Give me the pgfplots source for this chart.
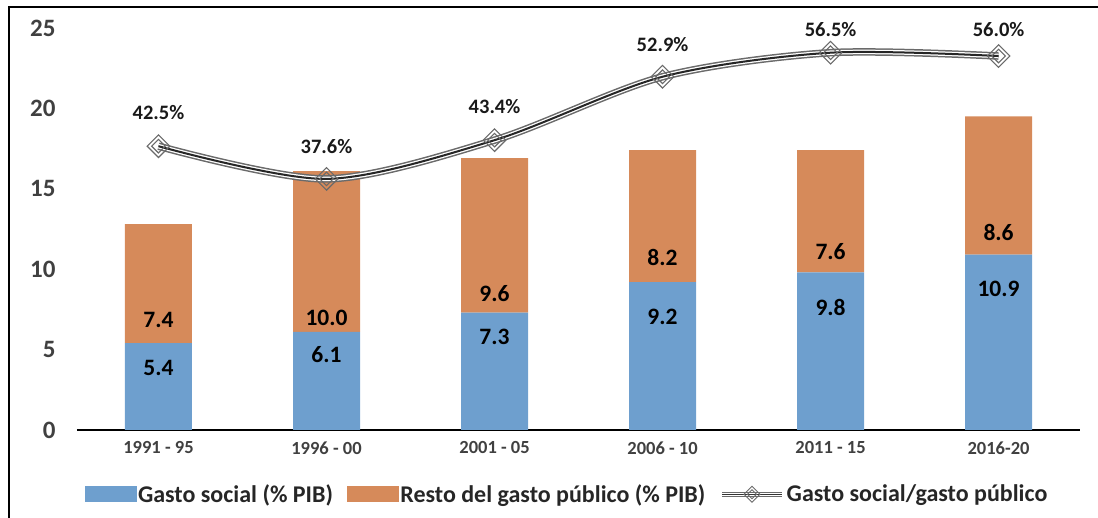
\documentclass[border=0pt]{standalone}
\usepackage{fontspec}
\setmainfont{Carlito}
\usepackage{pgfplots}
\usepackage{pgfplotstable}
\pgfplotsset{compat=1.18}

\definecolor{azul}{HTML}{6E9FCE}
\definecolor{naranja}{HTML}{D68A5A}
\definecolor{gristick}{HTML}{404040}
\definecolor{grisleg}{HTML}{262626}
\definecolor{grislinea}{HTML}{6A6A6A}

% periodo, gasto social, resto, y de las etiquetas
\pgfplotstableread{
x soc resto ysoc yresto
0 5.4 7.4  3.86 6.84
1 6.1 10.0 4.66 6.97
2 7.3 9.6  5.78 8.46
3 9.2 8.2  7.03 10.70
4 9.8 7.6  7.65 11.07
5 10.9 8.6 8.77 12.31
}\barras

% gasto social / gasto publico (%)
\pgfplotstableread{
x ratio ylbl lbl
0 42.5 47.6 42.5\%
1 37.6 42.5 37.6\%
2 43.4 48.5 43.4\%
3 52.9 57.8 52.9\%
4 56.5 60.0 56.5\%
5 56.0 60.0 56.0\%
}\ratio

\pgfplotsset{
  base/.style={at={(77pt,88pt)}, anchor=south west, scale only axis,
    width=1003pt, height=402pt, xmin=-0.485, xmax=5.485, clip=false},
  oculto/.style={base, hide axis},
}

\begin{document}
\begin{tikzpicture}
\path[use as bounding box] (0,0) rectangle (1098pt,518pt);

\begin{axis}[base,
    ymin=0, ymax=25,
    ybar stacked, bar width=67pt,
    axis lines*=left,
    y axis line style={draw=none},
    x axis line style={black, line width=1.8pt},
    major tick length=0pt,
    ytick={0,5,...,25},
    xtick={0,...,5},
    xticklabels={1991 - 95, 1996 - 00, 2001 - 05, 2006 - 10, 2011 - 15, 2016-20},
    /pgf/number format/assume math mode=true,
    yticklabel style={font=\bfseries\fontsize{25}{25}\selectfont, text=gristick, xshift=-18pt},
    xticklabel style={font=\bfseries\fontsize{18.5}{18.5}\selectfont, text=gristick, yshift=-8pt},
  ]
  \addplot[fill=azul, draw=none] table[x=x, y=soc] {\barras};
  \addplot[fill=naranja, draw=none] table[x=x, y=resto] {\barras};
\end{axis}

\begin{axis}[oculto, ymin=0, ymax=25]
  \addplot[draw=none, mark=none, nodes near coords, point meta=explicit symbolic,
    nodes near coords style={anchor=center, font=\bfseries\fontsize{23.5}{23.5}\selectfont, text=black}]
    table[x=x, y=ysoc, meta=soc] {\barras};
  \addplot[draw=none, mark=none, nodes near coords, point meta=explicit symbolic,
    nodes near coords style={anchor=center, font=\bfseries\fontsize{23.5}{23.5}\selectfont, text=black}]
    table[x=x, y=yresto, meta=resto] {\barras};
\end{axis}

\begin{axis}[oculto, ymin=0, ymax=60.2,
    legend style={at={(0.4885,-0.16)}, anchor=center, draw=none, fill=none,
      legend columns=3, font=\bfseries\fontsize{24}{24}\selectfont, text=grisleg,
      /tikz/every even column/.append style={column sep=12pt}},
  ]
  \addlegendimage{legend image code/.code={\fill[azul] (0pt,-7pt) rectangle (51pt,8pt);}}
  \addlegendentry{Gasto social (\% PIB)}
  \addlegendimage{legend image code/.code={\fill[naranja] (0pt,-7pt) rectangle (51pt,8pt);}}
  \addlegendentry{Resto del gasto público (\% PIB)}
  \addlegendimage{legend image code/.code={
      \draw[grislinea, double=white, double distance=3pt, line width=1.2pt] (0pt,0pt) -- (60pt,0pt);
      \draw[black!80, line width=1.4pt] (0pt,0pt) -- (60pt,0pt);
      \draw[grislinea, line width=0.9pt] (30pt,-8pt) -- (38pt,0pt) -- (30pt,8pt) -- (22pt,0pt) -- cycle;
      \draw[grislinea, line width=0.9pt] (30pt,-4.5pt) -- (34.5pt,0pt) -- (30pt,4.5pt) -- (25.5pt,0pt) -- cycle;}}
  \addlegendentry{Gasto social/gasto público}

  \addplot[smooth, tension=0.5, grislinea, double=white, double distance=4.5pt, line width=1.5pt, forget plot]
    table[x=x, y=ratio] {\ratio};
  \addplot[smooth, tension=0.5, black!85, line width=2pt, forget plot]
    table[x=x, y=ratio] {\ratio};
  \addplot[only marks, mark=square, forget plot,
    mark options={rotate=45, draw=grislinea, fill=none, line width=1.1pt}, mark size=8pt]
    table[x=x, y=ratio] {\ratio};
  \addplot[only marks, mark=square, forget plot,
    mark options={rotate=45, draw=grislinea, fill=none, line width=1.1pt}, mark size=4.8pt]
    table[x=x, y=ratio] {\ratio};
  \addplot[draw=none, mark=none, forget plot, nodes near coords, point meta=explicit symbolic,
    nodes near coords style={anchor=center, font=\bfseries\fontsize{20.5}{20.5}\selectfont, text=black!90}]
    table[x=x, y=ylbl, meta=lbl] {\ratio};
\end{axis}

\draw[black, line width=2.5pt] (9pt,0pt) -- (9pt,511pt) -- (1098pt,511pt);
\end{tikzpicture}
\end{document}
